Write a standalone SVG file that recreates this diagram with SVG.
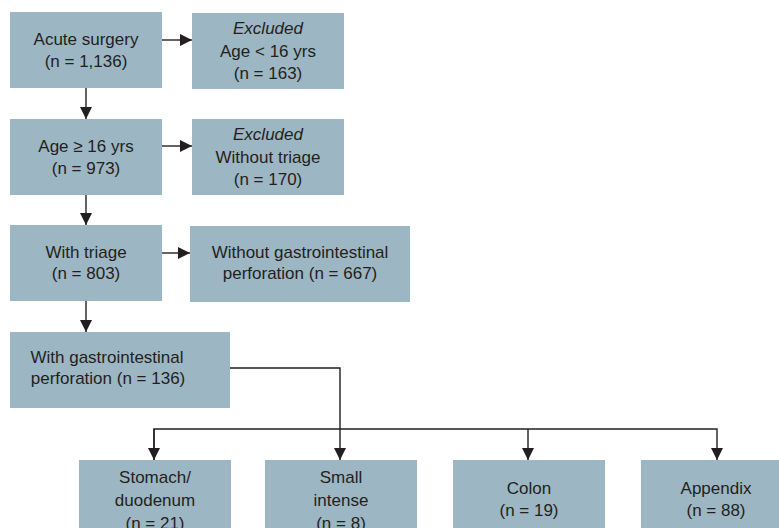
<svg xmlns="http://www.w3.org/2000/svg" width="779" height="528" viewBox="0 0 779 528">
<defs>
<marker id="ah" markerUnits="userSpaceOnUse" markerWidth="12" markerHeight="12" refX="12" refY="6" orient="auto">
<path d="M0,0 L12,6 L0,12 z" fill="#231f20"/>
</marker>
</defs>
<style>
.box{fill:#9db6c3;}
text{font-family:"Liberation Sans",Arial,sans-serif;font-size:17px;fill:#231f20;text-anchor:middle;}
.it{font-style:italic;}
.c{fill:none;stroke:#231f20;stroke-width:1.4;}
</style>
<rect width="779" height="528" fill="#ffffff"/>
<g id="n1"><rect class="box" x="10" y="12" width="152" height="76"/><text x="86" y="45">Acute surgery</text><text x="86" y="67">(n = 1,136)</text></g>
<g id="n2"><rect class="box" x="192" y="13" width="152" height="76"/><text class="it" x="268" y="34">Excluded</text><text x="268" y="57">Age &lt; 16 yrs</text><text x="268" y="79">(n = 163)</text></g>
<g id="n3"><rect class="box" x="10" y="119" width="152" height="76"/><text x="86" y="152">Age ≥ 16 yrs</text><text x="86" y="174">(n = 973)</text></g>
<g id="n4"><rect class="box" x="192" y="119" width="152" height="76"/><text class="it" x="268" y="140">Excluded</text><text x="268" y="163">Without triage</text><text x="268" y="185">(n = 170)</text></g>
<g id="n5"><rect class="box" x="10" y="225" width="152" height="76"/><text x="86" y="258">With triage</text><text x="86" y="279">(n = 803)</text></g>
<g id="n6"><rect class="box" x="190" y="226" width="220" height="76"/><text x="300" y="258">Without gastrointestinal</text><text x="300" y="279">perforation (n = 667)</text></g>
<g id="n7"><rect class="box" x="10" y="332" width="220" height="76"/><text x="107" y="363">With gastrointestinal</text><text x="108" y="384">perforation (n = 136)</text></g>
<g id="n8"><rect class="box" x="79" y="460" width="152" height="76"/><text x="155" y="483">Stomach/</text><text x="155" y="506">duodenum</text><text x="155" y="529">(n = 21)</text></g>
<g id="n9"><rect class="box" x="265" y="460" width="152" height="76"/><text x="341" y="483">Small</text><text x="341" y="506">intense</text><text x="341" y="529">(n = 8)</text></g>
<g id="n10"><rect class="box" x="453" y="460" width="152" height="76"/><text x="529" y="494">Colon</text><text x="529" y="516">(n = 19)</text></g>
<g id="n11"><rect class="box" x="641" y="460" width="152" height="76"/><text x="716" y="494">Appendix</text><text x="716" y="516">(n = 88)</text></g>
<g id="connectors">
<path class="c" d="M162,40 H192" marker-end="url(#ah)"/>
<path class="c" d="M162,146 H192" marker-end="url(#ah)"/>
<path class="c" d="M162,253 H190" marker-end="url(#ah)"/>
<path class="c" d="M86,88 V119" marker-end="url(#ah)"/>
<path class="c" d="M86,195 V225" marker-end="url(#ah)"/>
<path class="c" d="M86,301 V332" marker-end="url(#ah)"/>
<path class="c" d="M230,368 H340 V460" marker-end="url(#ah)"/>
<path class="c" d="M154,460 V429 H717 V460" marker-end="url(#ah)"/>
<path class="c" d="M154,429 V460" marker-end="url(#ah)"/>
<path class="c" d="M528,429 V460" marker-end="url(#ah)"/>
</g>
</svg>
